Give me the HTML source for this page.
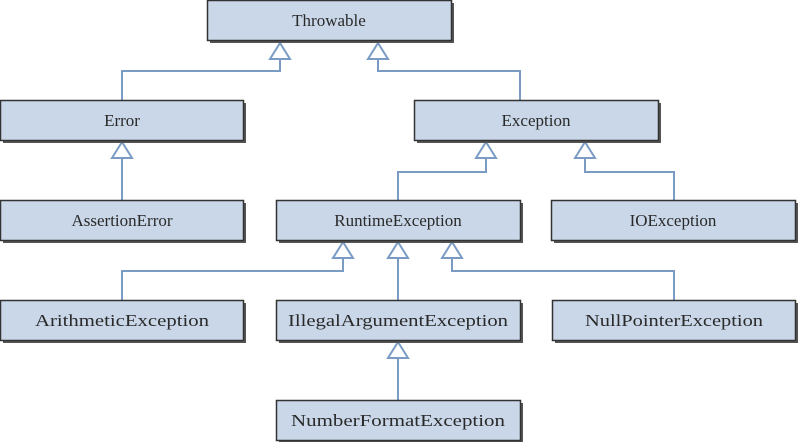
<!DOCTYPE html>
<html><head><meta charset="utf-8"><style>
html,body{margin:0;padding:0;background:#fff;width:798px;height:442px;overflow:hidden}
</style></head><body>
<svg width="798" height="442" xmlns="http://www.w3.org/2000/svg" font-family="Liberation Serif, serif" font-size="17">
<defs>
<g id="ar"><polygon points="0,0 -10,16 10,16" fill="#fff" stroke="#7a9cc4" stroke-width="2"/></g>
</defs>
<g fill="none" stroke="#7a9cc4" stroke-width="2">
<!-- Throwable children -->
<path d="M280,59 V71 H122 V100"/>
<path d="M378,59 V71 H520 V100"/>
<path d="M122,158 V200"/>
<path d="M486,158 V172 H398 V200"/>
<path d="M585,158 V172 H674 V200"/>
<path d="M343,258 V271 H122 V300"/>
<path d="M398,258 V300"/>
<path d="M452,258 V271 H674 V300"/>
<path d="M398,358 V400"/>
</g>
<use href="#ar" x="280" y="43"/><use href="#ar" x="378" y="43"/>
<use href="#ar" x="122" y="142"/>
<use href="#ar" x="486" y="142"/><use href="#ar" x="585" y="142"/>
<use href="#ar" x="343" y="242"/><use href="#ar" x="398" y="242"/><use href="#ar" x="452" y="242"/>
<use href="#ar" x="398" y="342"/>
<g stroke="#333" stroke-width="1.5">
<g fill="#555" stroke="none">
<rect x="210" y="3" width="244" height="40"/>
<rect x="3" y="103" width="243" height="40"/>
<rect x="417" y="103" width="244" height="40"/>
<rect x="3" y="203" width="243" height="40"/>
<rect x="279" y="203" width="244" height="40"/>
<rect x="554" y="203" width="244" height="40"/>
<rect x="3" y="303" width="243" height="40"/>
<rect x="279" y="303" width="244" height="40"/>
<rect x="555" y="303" width="243" height="40"/>
<rect x="279" y="403" width="244" height="40"/>
</g>
<g fill="#c9d7e8">
<rect x="207.5" y="0.5" width="244" height="40"/>
<rect x="0.5" y="100.5" width="243" height="40"/>
<rect x="414.5" y="100.5" width="244" height="40"/>
<rect x="0.5" y="200.5" width="243" height="40"/>
<rect x="276.5" y="200.5" width="244" height="40"/>
<rect x="551.5" y="200.5" width="244" height="40"/>
<rect x="0.5" y="300.5" width="243" height="40"/>
<rect x="276.5" y="300.5" width="244" height="40"/>
<rect x="552.5" y="300.5" width="243" height="40"/>
<rect x="276.5" y="400.5" width="244" height="40"/>
</g>
</g>
<g fill="#2a2a2a" text-anchor="middle">
<text x="329" y="26">Throwable</text>
<text x="122" y="126">Error</text>
<text x="536" y="126">Exception</text>
<text x="122" y="226">AssertionError</text>
<text x="398" y="226">RuntimeException</text>
<text x="673" y="226">IOException</text>
<text x="122" y="326" textLength="174" lengthAdjust="spacingAndGlyphs">ArithmeticException</text>
<text x="398" y="326" textLength="220" lengthAdjust="spacingAndGlyphs">IllegalArgumentException</text>
<text x="674" y="326" textLength="178" lengthAdjust="spacingAndGlyphs">NullPointerException</text>
<text x="398" y="426" textLength="214" lengthAdjust="spacingAndGlyphs">NumberFormatException</text>
</g>
</svg>
</body></html>
